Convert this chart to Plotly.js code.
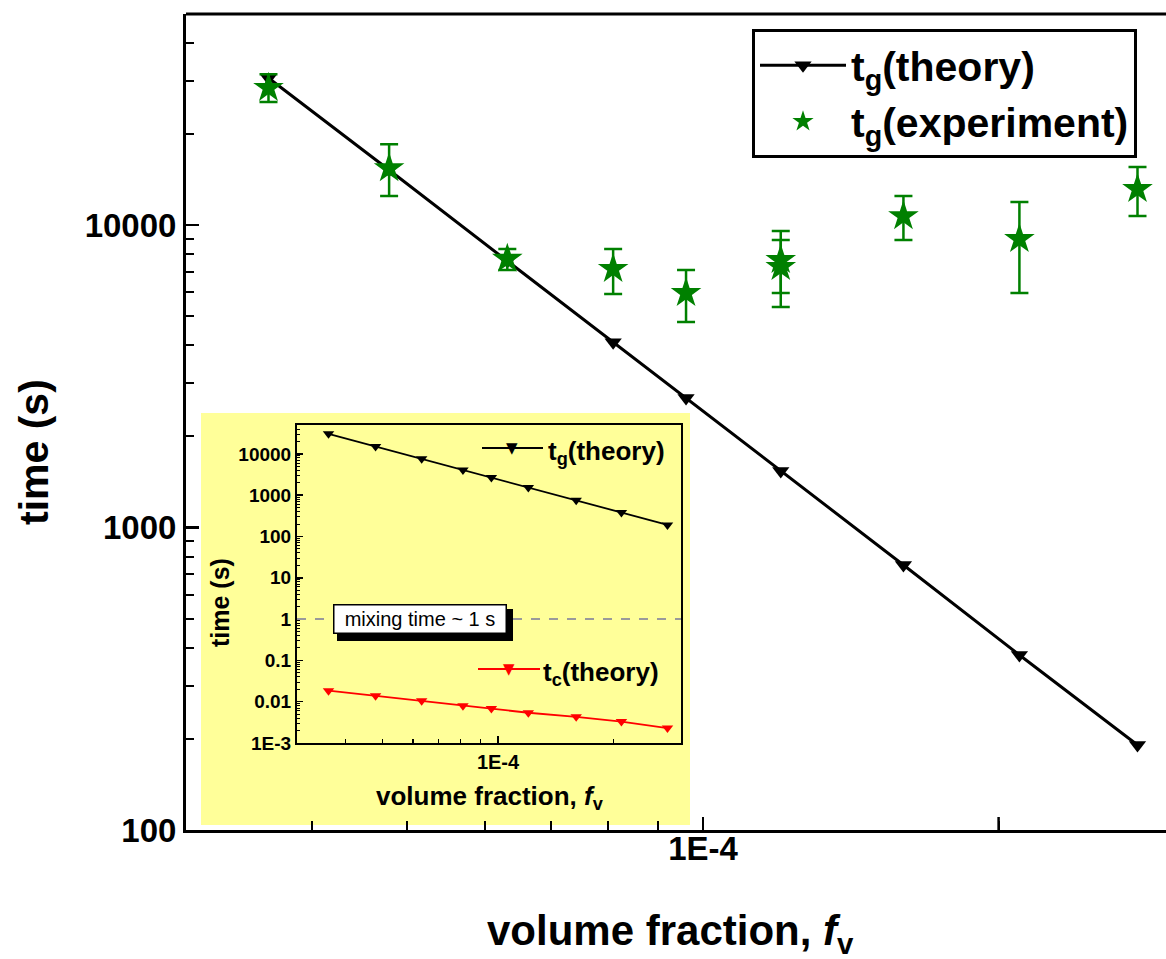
<!DOCTYPE html>
<html>
<head>
<meta charset="utf-8">
<script src="https://cdn.plot.ly/plotly-3.0.1.min.js"></script>
<style>html,body{margin:0;padding:0;background:#fff;}#chart{width:1166px;height:959px;}</style>
</head>
<body>
<div id="chart"></div>
<script>
// ---- data ----
const fv = [3.61e-5, 4.79e-5, 6.32e-5, 8.1e-5, 9.61e-5, 1.20e-4, 1.60e-4, 2.10e-4, 2.77e-4];
const tgTheory = [30600, 15200, 7600, 4100, 2680, 1538, 752, 379, 191];
const tcTheory = [0.0185, 0.0140, 0.0106, 0.0080, 0.0068, 0.0054, 0.0043, 0.0033, 0.0023];

const expFv = [3.61e-5, 4.79e-5, 6.32e-5, 8.1e-5, 9.61e-5, 1.20e-4, 1.20e-4, 1.60e-4, 2.10e-4, 2.77e-4];
const expTg = [28400, 15400, 7730, 7160, 5960, 7660, 7260, 10700, 8990, 13150];
const expHi = [31500, 18500, 8330, 8330, 7100, 9550, 8920, 12470, 11910, 15560];
const expLo = [25500, 12470, 7100, 5910, 4780, 5960, 5360, 8920, 5960, 10700];

const mainYTicks = [100, 1000, 10000];
const mainYTickText = ['100', '1000', '10000'];
const mainXTicks = [1e-4];
const mainXTickText = ['1E-4'];
const insetYTicks = [1e-3, 0.01, 0.1, 1, 10, 100, 1000, 10000];
const insetYTickText = ['1E-3', '0.01', '0.1', '1', '10', '100', '1000', '10000'];
const insetXTicks = [1e-4];
const insetXTickText = ['1E-4'];
const mixingTime = 1;

// minor tick positions (2..9 of each decade)
function minors(decades, lo, hi) {
  const out = [];
  decades.forEach(d => { for (let k = 2; k <= 9; k++) { const v = k * d; if (v > lo && v < hi) out.push(v); } });
  return out;
}

const FONT = 'Liberation Sans, Arial, Helvetica, sans-serif';
const green = '#008000';

// pixel helpers for paper positioning (plot area: x 186..1166, y 14..830)
const L = 186, T = 14, W = 980, H = 816;
const px = x => (x - L) / W;
const py = y => (T + H - y) / H;

const traces = [
  {
    x: fv, y: tgTheory, type: 'scatter', mode: 'lines+markers',
    name: 't<sub>g</sub>(theory)',
    line: {color: '#000', width: 3},
    marker: {symbol: 'triangle-down', size: 15, color: '#000'},
    xaxis: 'x', yaxis: 'y'
  },
  {
    x: expFv, y: expTg, type: 'scatter', mode: 'markers',
    name: 't<sub>g</sub>(experiment)',
    marker: {symbol: 'star', size: 23, color: green, line: {width: 0}},
    error_y: {
      type: 'data', symmetric: false,
      array: expHi.map((v, i) => v - expTg[i]),
      arrayminus: expTg.map((v, i) => v - expLo[i]),
      color: green, thickness: 2.5, width: 9
    },
    xaxis: 'x', yaxis: 'y'
  },
  {
    x: fv, y: tgTheory, type: 'scatter', mode: 'lines+markers',
    showlegend: false,
    line: {color: '#000', width: 1.8},
    marker: {symbol: 'triangle-down', size: 10, color: '#000'},
    xaxis: 'x2', yaxis: 'y2'
  },
  {
    x: fv, y: tcTheory, type: 'scatter', mode: 'lines+markers',
    showlegend: false,
    line: {color: '#ff0000', width: 1.8},
    marker: {symbol: 'triangle-down', size: 10, color: '#ff0000'},
    xaxis: 'x2', yaxis: 'y2'
  }
];

const boldTick = size => ({family: FONT, size: size, color: '#000', weight: 'bold'});

const layout = {
  width: 1166, height: 959,
  margin: {l: L, r: 0, t: T, b: 959 - T - H, pad: 0},
  paper_bgcolor: '#fff', plot_bgcolor: 'rgba(0,0,0,0)',
  showlegend: true,
  font: {family: FONT, color: '#000'},
  xaxis: {
    type: 'log', range: [-4.5265, -3.5285], domain: [0, 1], anchor: 'y',
    showgrid: false, zeroline: false,
    showline: true, linecolor: '#000', linewidth: 3,
    ticks: 'inside', ticklen: 13, tickwidth: 2.5, tickcolor: '#000',
    tickmode: 'array', tickvals: mainXTicks, ticktext: mainXTickText,
    tickfont: boldTick(33), ticklabelstandoff: -13,
    minor: {tickmode: 'array', tickvals: minors([1e-5, 1e-4], 3.1e-5, 2.5e-4), ticks: 'inside', ticklen: 9, tickwidth: 2, tickcolor: '#000', showgrid: false}
  },
  yaxis: {
    type: 'log', range: [2, 4.6975], domain: [0, 1], anchor: 'x',
    showgrid: false, zeroline: false,
    showline: true, linecolor: '#000', linewidth: 3,
    ticks: 'inside', ticklen: 13, tickwidth: 2.5, tickcolor: '#000',
    tickmode: 'array', tickvals: mainYTicks, ticktext: mainYTickText,
    tickfont: boldTick(33),
    minor: {tickmode: 'array', tickvals: minors([100, 1000, 10000], 100, 50000), ticks: 'inside', ticklen: 8, tickwidth: 2, tickcolor: '#000', showgrid: false}
  },
  xaxis2: {
    type: 'log', range: [-4.5248, -3.5222], domain: [px(297), px(681)], anchor: 'y2',
    showgrid: false, zeroline: false,
    showline: true, mirror: true, linecolor: '#000', linewidth: 2,
    ticks: 'inside', ticklen: 7, tickwidth: 1.5, tickcolor: '#000',
    tickmode: 'array', tickvals: insetXTicks, ticktext: insetXTickText,
    tickfont: boldTick(20),
    minor: {tickmode: 'array', tickvals: minors([1e-5, 1e-4], 3.1e-5, 2.99e-4), ticks: 'inside', ticklen: 4, tickwidth: 1.2, tickcolor: '#000', showgrid: false}
  },
  yaxis2: {
    type: 'log', range: [-3, 4.70], domain: [py(743), py(425)], anchor: 'x2',
    showgrid: false, zeroline: false,
    showline: true, mirror: true, linecolor: '#000', linewidth: 2,
    ticks: 'inside', ticklen: 6, tickwidth: 1.5, tickcolor: '#000',
    tickmode: 'array', tickvals: insetYTicks, ticktext: insetYTickText,
    tickfont: boldTick(19),
    minor: {tickmode: 'array', tickvals: minors([1e-3, 1e-2, 0.1, 1, 10, 100, 1000, 10000], 1e-3, 50000), ticks: 'inside', ticklen: 3, tickwidth: 1, tickcolor: '#000', showgrid: false}
  },
  legend: {
    x: px(752), y: py(29), xanchor: 'left', yanchor: 'top',
    bgcolor: '#fff', bordercolor: '#000', borderwidth: 3,
    font: {family: FONT, size: 41, color: '#000', weight: 'bold'},
    itemwidth: 86, tracegroupgap: 0
  },
  shapes: [
    // inset yellow panel
    {type: 'rect', xref: 'paper', yref: 'paper', x0: px(201), x1: px(690), y0: py(825), y1: py(413),
     fillcolor: '#ffff99', line: {width: 0}, layer: 'below'},
    // top frame line of main plot
    {type: 'line', xref: 'paper', yref: 'paper', x0: 0, x1: 1, y0: 1, y1: 1, line: {color: '#000', width: 3}},
    // major tick at 2E-4 on main x axis (unlabelled)
    {type: 'line', xref: 'x', yref: 'paper', x0: 2e-4, x1: 2e-4, y0: 0, y1: 13 / H, line: {color: '#000', width: 2.5}},
    // mixing time dashed line
    {type: 'line', xref: 'x2 domain', yref: 'y2', x0: 0, x1: 1, y0: mixingTime, y1: mixingTime,
     line: {color: '#9a9a9a', width: 2, dash: 'dash'}},
    // shadow of mixing time box
    {type: 'rect', xref: 'paper', yref: 'paper', x0: px(337), x1: px(513), y0: py(641), y1: py(609),
     fillcolor: '#000', line: {width: 0}},
    // inset legend lines
    {type: 'line', xref: 'paper', yref: 'paper', x0: px(482), x1: px(543), y0: py(448), y1: py(448), line: {color: '#000', width: 1.8}},
    {type: 'line', xref: 'paper', yref: 'paper', x0: px(478), x1: px(540), y0: py(669), y1: py(669), line: {color: '#ff0000', width: 1.8}}
  ],
  annotations: [
    {xref: 'paper', yref: 'paper', x: px(34), y: py(452), text: 'time (s)', textangle: -90, showarrow: false,
     xanchor: 'center', yanchor: 'middle', font: {family: FONT, size: 41, weight: 'bold', color: '#000'}},
    {xref: 'paper', yref: 'paper', x: px(670), y: py(933), text: 'volume fraction, <i>f</i><sub>v</sub>', showarrow: false,
     xanchor: 'center', yanchor: 'middle', font: {family: FONT, size: 42, weight: 'bold', color: '#000'}},
    {xref: 'paper', yref: 'paper', x: px(220), y: py(603), text: 'time (s)', textangle: -90, showarrow: false,
     xanchor: 'center', yanchor: 'middle', font: {family: FONT, size: 25, weight: 'bold', color: '#000'}},
    {xref: 'paper', yref: 'paper', x: px(490), y: py(797), text: 'volume fraction, <i>f</i><sub>v</sub>', showarrow: false,
     xanchor: 'center', yanchor: 'middle', font: {family: FONT, size: 26, weight: 'bold', color: '#000'}},
    {xref: 'paper', yref: 'paper', x: px(419.5), y: py(619.5), text: 'mixing time ~ 1 s', showarrow: false,
     xanchor: 'center', yanchor: 'middle', width: 169, height: 25, bgcolor: '#fff', bordercolor: '#000', borderwidth: 1.5, borderpad: 1,
     font: {family: FONT, size: 20, color: '#000'}},
    {xref: 'paper', yref: 'paper', x: px(512), y: py(448), text: '▼', showarrow: false,
     xanchor: 'center', yanchor: 'middle', font: {family: 'DejaVu Sans', size: 15, color: '#000'}},
    {xref: 'paper', yref: 'paper', x: px(509), y: py(669), text: '▼', showarrow: false,
     xanchor: 'center', yanchor: 'middle', font: {family: 'DejaVu Sans', size: 15, color: '#ff0000'}},
    {xref: 'paper', yref: 'paper', x: px(546), y: py(452), text: 't<sub>g</sub>(theory)', showarrow: false,
     xanchor: 'left', yanchor: 'middle', font: {family: FONT, size: 26, weight: 'bold', color: '#000'}},
    {xref: 'paper', yref: 'paper', x: px(541), y: py(673), text: 't<sub>c</sub>(theory)', showarrow: false,
     xanchor: 'left', yanchor: 'middle', font: {family: FONT, size: 26, weight: 'bold', color: '#000'}}
  ]
};

Plotly.newPlot('chart', traces, layout, {displayModeBar: false, staticPlot: true});
</script>
</body>
</html>
